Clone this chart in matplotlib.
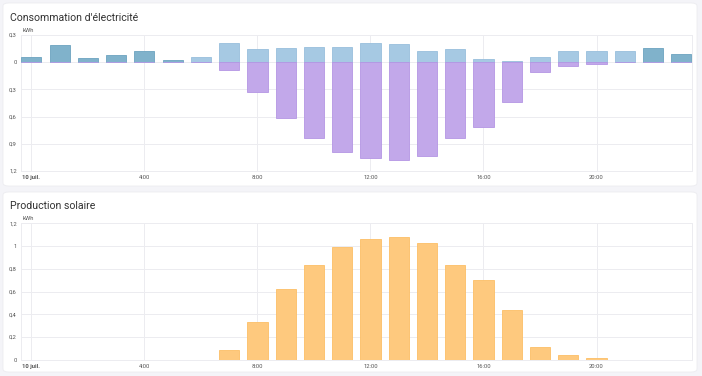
import numpy as np
import matplotlib
matplotlib.use("Agg")
import matplotlib.pyplot as plt
from matplotlib.patches import FancyBboxPatch

plt.rcParams['font.family'] = ['Roboto', 'DejaVu Sans']

# hours of the day (bars are centred on the hour)
hours = np.arange(24)

# consumption (kWh): dark = grid hours, light = daytime hours
cons_dark = [0.055, 0.19, 0.05, 0.084, 0.12, 0.022, 0, 0, 0, 0, 0, 0,
             0, 0, 0, 0, 0, 0, 0, 0, 0, 0, 0.154, 0.095]
cons_light = [0, 0, 0, 0, 0, 0, 0.059, 0.21, 0.15, 0.154, 0.165, 0.172,
              0.21, 0.205, 0.125, 0.15, 0.03, 0.01, 0.055, 0.125, 0.128, 0.12, 0, 0]
# solar shown below zero in the consumption chart
cons_solar = [0, 0, 0, 0, 0, 0, 0, 0.084, 0.33, 0.62, 0.84, 0.99,
              1.06, 1.08, 1.03, 0.84, 0.71, 0.44, 0.11, 0.037, 0.015, 0, 0, 0]

# solar production (kWh)
production = [0, 0, 0, 0, 0, 0, 0, 0.082, 0.33, 0.62, 0.836, 0.99,
              1.06, 1.077, 1.024, 0.833, 0.704, 0.437, 0.11, 0.038, 0.015, 0, 0, 0]

xticks = [0, 4, 8, 12, 16, 20]
xticklabels = ["10 juil.", "4:00", "8:00", "12:00", "16:00", "20:00"]

BG = "#f4f4f8"
GRID = "#ececf0"
TXT = "#555555"

fig = plt.figure(figsize=(7.02, 3.76), dpi=100)
fig.patch.set_facecolor(BG)

# white cards
for (x0, y0, x1, y1) in [(3, 3, 697, 186), (3, 192, 697, 372)]:
    card = FancyBboxPatch((x0 / 702, 1 - y1 / 376), (x1 - x0) / 702, (y1 - y0) / 376,
                          boxstyle="round,pad=0,rounding_size=0.008",
                          transform=fig.transFigure, facecolor="white",
                          edgecolor="#ececf0", linewidth=0.6, zorder=0)
    fig.add_artist(card)

fig.text(10 / 702, 1 - 18 / 376, "Consommation d'électricité", fontsize=7.6,
         color="#333333", va="center", ha="left")
fig.text(10 / 702, 1 - 206 / 376, "Production solaire", fontsize=7.6,
         color="#333333", va="center", ha="left")

ax1 = fig.add_axes([21 / 702, 1 - 171 / 376, 671 / 702, 136 / 376])
ax2 = fig.add_axes([21 / 702, 1 - 359.7 / 376, 671 / 702, 136.4 / 376])

W = 0.71


def style(ax, yt, ylabels):
    ax.set_facecolor("none")
    ax.set_xlim(-0.37, 23.38)
    ax.set_xticks(xticks)
    ax.set_xticklabels(xticklabels)
    ax.get_xticklabels()[0].set_fontweight("bold")
    ax.get_xticklabels()[0].set_color("#333333")
    ax.set_yticks(yt)
    ax.set_yticklabels(ylabels)
    ax.tick_params(length=0, labelsize=4.2, colors=TXT, pad=3)
    ax.grid(True, color=GRID, linewidth=0.7, zorder=0)
    ax.set_axisbelow(True)
    for s in ax.spines.values():
        s.set_color(GRID)
        s.set_linewidth(0.7)
    ax.text(0.002, 1.015, "kWh", transform=ax.transAxes, fontsize=4.2,
            color=TXT, ha="left", va="bottom")


# consumption chart
ax1.bar(hours, cons_dark, width=W, color="#80b2cb", edgecolor="#6ca3bf",
        linewidth=0.6, zorder=3)
ax1.bar(hours, cons_light, width=W, color="#a6c9e3", edgecolor="#98bfdc",
        linewidth=0.6, zorder=3)
ax1.bar(hours, -np.array(cons_solar), width=W, color="#c2a8ea",
        edgecolor="#b496e4", linewidth=0.6, zorder=3)
ax1.set_ylim(-1.2, 0.3)
style(ax1, [0.3, 0, -0.3, -0.6, -0.9, -1.2], ["0,3", "0", "0,3", "0,6", "0,9", "1,2"])

# production chart
ax2.bar(hours, production, width=W, color="#fec97e", edgecolor="#fcbf66",
        linewidth=0.6, zorder=3)
ax2.set_ylim(0, 1.2)
style(ax2, [0, 0.2, 0.4, 0.6, 0.8, 1.0, 1.2], ["0", "0,2", "0,4", "0,6", "0,8", "1", "1,2"])

fig.savefig("out.png", dpi=100, facecolor=BG)
